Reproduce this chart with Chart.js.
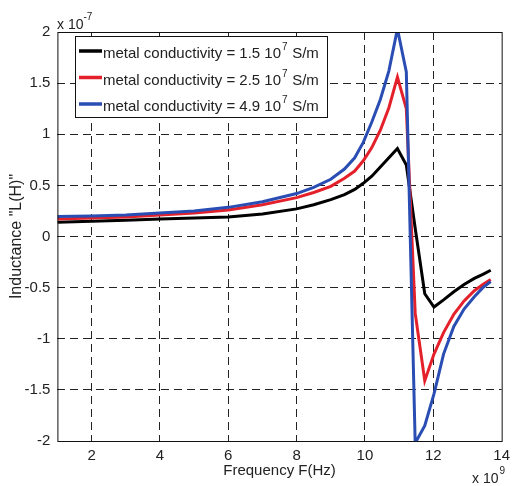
<!DOCTYPE html>
<html>
<head>
<meta charset="utf-8">
<script src="https://cdn.jsdelivr.net/npm/chart.js@4.4.1/dist/chart.umd.min.js"></script>
<style>
  body { margin: 0; background: #fff; }
  canvas { display: block; }
</style>
</head>
<body>
<canvas id="lChart" width="516" height="486"></canvas>
<script>
// frequency in units of 1e9 Hz, inductance in units of 1e-7 H
const freq = [1, 2, 3, 4, 5, 6, 7, 8, 8.5, 9, 9.4, 9.7, 9.95, 10.2, 10.45, 10.7, 10.95, 11.21, 11.47, 11.75, 12.02, 12.3, 12.6, 12.9, 13.2, 13.45, 13.68];
const sigma15 = [0.14, 0.15, 0.16, 0.17, 0.18, 0.19, 0.22, 0.27, 0.31, 0.36, 0.41, 0.46, 0.52, 0.59, 0.68, 0.77, 0.86, 0.70, 0.08, -0.56, -0.69, -0.62, -0.54, -0.47, -0.41, -0.37, -0.33];
const sigma25 = [0.17, 0.18, 0.19, 0.21, 0.23, 0.26, 0.31, 0.38, 0.43, 0.49, 0.57, 0.64, 0.74, 0.87, 1.04, 1.26, 1.56, 1.25, -0.75, -1.41, -1.15, -0.94, -0.76, -0.63, -0.53, -0.47, -0.42];
const sigma49 = [0.195, 0.2, 0.21, 0.23, 0.25, 0.285, 0.34, 0.42, 0.48, 0.56, 0.66, 0.77, 0.92, 1.12, 1.34, 1.62, 2.03, 1.61, -2.02, -1.85, -1.54, -1.15, -0.88, -0.71, -0.59, -0.50, -0.44];
const xTicks = [2, 4, 6, 8, 10, 12, 14];
const legendNames = ['1.5', '2.5', '4.9'];

const FONT = '"Liberation Sans", Arial, sans-serif';
const pts = ys => freq.map((f, i) => ({ x: f, y: ys[i] }));

const frame = {
    id: 'frame',
    afterDatasetsDraw(chart) {
        const c = chart.ctx;
        const a = chart.chartArea;
        c.save();
        c.setLineDash([]);
        c.strokeStyle = '#111';
        c.lineWidth = 1;
        c.strokeRect(a.left + 0.5, a.top + 0.5, a.right - a.left, a.bottom - a.top);

        // legend box
        const lx = 75, ly = 36, lw = 252, lh = 81;
        c.fillStyle = '#fff';
        c.fillRect(lx, ly, lw, lh);
        c.strokeRect(lx + 0.5, ly + 0.5, lw, lh);
        const rows = [51, 77.5, 104];
        chart.data.datasets.forEach((ds, i) => {
            const y = rows[i];
            c.strokeStyle = ds.borderColor;
            c.lineWidth = 3.5;
            c.beginPath();
            c.moveTo(79, y);
            c.lineTo(102, y);
            c.stroke();
            c.fillStyle = '#222';
            c.textBaseline = 'alphabetic';
            c.font = '15px ' + FONT;
            let t = 'metal conductivity = ' + legendNames[i] + ' 10';
            c.fillText(t, 103, y + 7);
            let w = c.measureText(t).width;
            c.font = '10px ' + FONT;
            c.fillText('7', 103 + w + 1, y - 1);
            c.font = '15px ' + FONT;
            c.fillText(' S/m', 103 + w + 7, y + 7);
        });

        // exponent labels
        c.fillStyle = '#222';
        c.font = '14px ' + FONT;
        c.fillText('x 10', 57, 29);
        let w = c.measureText('x 10').width;
        c.font = '10px ' + FONT;
        c.fillText('-7', 57 + w, 20);
        c.font = '14px ' + FONT;
        c.fillText('x 10', 472, 483);
        w = c.measureText('x 10').width;
        c.font = '10px ' + FONT;
        c.fillText('9', 472 + w + 1, 474);
        c.restore();
    }
};

const gridColor = edge => ctx => (ctx.tick && edge.includes(ctx.tick.value)) ? 'rgba(0,0,0,0)' : '#222';

new Chart(document.getElementById('lChart'), {
    type: 'line',
    data: {
        datasets: [
            { label: '1.5e7', data: pts(sigma15), borderColor: '#000000', order: 2 },
            { label: '2.5e7', data: pts(sigma25), borderColor: '#e4212b', order: 1 },
            { label: '4.9e7', data: pts(sigma49), borderColor: '#2a4db3', order: 0 }
        ]
    },
    options: {
        responsive: false,
        animation: false,
        layout: { padding: { top: 32, right: 9, left: 0, bottom: 0 } },
        elements: {
            line: { borderWidth: 3, tension: 0, fill: false },
            point: { radius: 0 }
        },
        plugins: {
            legend: { display: false },
            tooltip: { enabled: false }
        },
        scales: {
            x: {
                type: 'linear',
                min: 1,
                max: 14,
                afterBuildTicks: s => { s.ticks = xTicks.map(v => ({ value: v })); },
                afterFit: s => { s.height = 45; },
                grid: { color: gridColor([14]), lineWidth: 1, drawTicks: false },
                border: { display: false, dash: [8, 5] },
                ticks: {
                    padding: 6,
                    color: '#222',
                    font: { family: FONT, size: 15 },
                    maxRotation: 0,
                    callback: v => String(v)
                },
                title: {
                    display: true,
                    text: 'Frequency F(Hz)',
                    color: '#222',
                    font: { family: FONT, size: 15 },
                    padding: { top: 6, bottom: 6 }
                }
            },
            y: {
                min: -2,
                max: 2,
                afterFit: s => { s.width = 57.4; },
                grid: { color: gridColor([-2, 2]), lineWidth: 1, drawTicks: false },
                border: { display: false, dash: [8, 5] },
                ticks: {
                    stepSize: 0.5,
                    padding: 7,
                    color: '#222',
                    font: { family: FONT, size: 15 },
                    callback: v => String(v)
                },
                title: {
                    display: true,
                    text: 'Inductance "L(H)"',
                    color: '#222',
                    font: { family: FONT, size: 16 },
                    padding: { top: 7, bottom: 7 }
                }
            }
        }
    },
    plugins: [frame]
});
</script>
</body>
</html>
